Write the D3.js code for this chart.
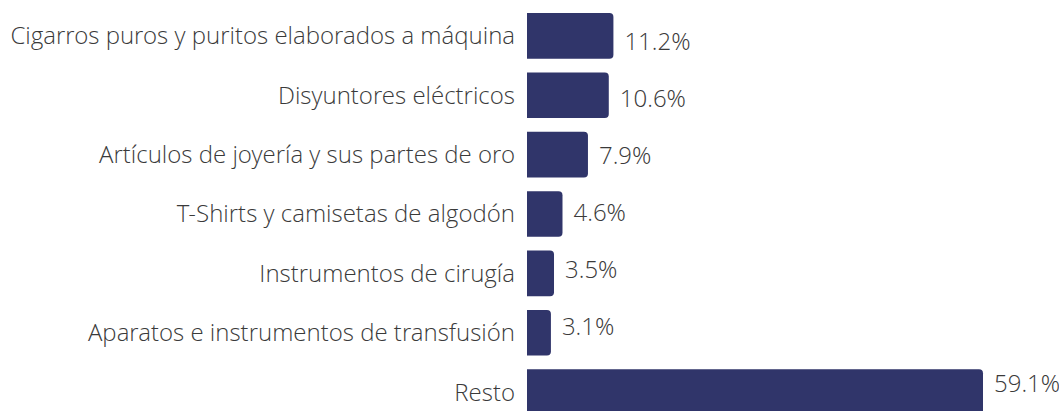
<!DOCTYPE html>
<html>
<head>
<meta charset="utf-8">
<script src="https://cdn.jsdelivr.net/npm/d3@7"></script>
<style>
  body { margin: 0; background: #fff; overflow: hidden; }
  text { font-family: "Open Sans Light", "Open Sans", sans-serif; font-weight: 300; fill: #3a3a3a; }
</style>
</head>
<body>
<div id="chart"></div>
<script>
// product categories and their share (%)
const categories = [
  "Cigarros puros y puritos elaborados a máquina",
  "Disyuntores eléctricos",
  "Artículos de joyería y sus partes de oro",
  "T-Shirts y camisetas de algodón",
  "Instrumentos de cirugía",
  "Aparatos e instrumentos de transfusión",
  "Resto"
];
const shares = [11.2, 10.6, 7.9, 4.6, 3.5, 3.1, 59.1];

const width = 1059, height = 411;
const left = 527;

const svg = d3.select("#chart")
  .append("svg")
  .attr("width", width)
  .attr("height", height);

// x scale: 59.1% spans about 456px
const x = d3.scaleLinear().domain([0, 59.1]).range([0, 456]);

// y bands for the bars (last one runs past the bottom edge)
const y = d3.scaleBand()
  .domain(categories)
  .range([13, 415])
  .paddingInner(0.23)
  .paddingOuter(0);

// value labels sit on a slightly tighter grid than the bars
const yLab = d3.scalePoint()
  .domain(categories)
  .range([41.5, 383.5]);

const data = categories.map((c, i) => ({ name: c, value: shares[i] }));

// bars with rounded right end
const r = 4;
svg.append("g")
  .selectAll("path")
  .data(data)
  .join("path")
  .attr("fill", "#30356a")
  .attr("d", (d) => {
    const x0 = left, x1 = left + x(d.value);
    const y0 = y(d.name), y1 = y0 + y.bandwidth();
    return `M${x0},${y0}H${x1 - r}Q${x1},${y0} ${x1},${y0 + r}` +
      `V${y1 - r}Q${x1},${y1} ${x1 - r},${y1}H${x0}Z`;
  });

// category labels
svg.append("g")
  .selectAll("text")
  .data(data)
  .join("text")
  .attr("x", left - 12)
  .attr("y", (d) => y(d.name) + y.bandwidth() / 2)
  .attr("dy", "0.35em")
  .attr("text-anchor", "end")
  .style("font-size", "24px")
  .text((d) => d.name);

// value labels
svg.append("g")
  .selectAll("text")
  .data(data)
  .join("text")
  .attr("x", (d) => left + x(d.value) + 11)
  .attr("y", (d) => yLab(d.name))
  .attr("dy", "0.35em")
  .style("font-size", "24px")
  .text((d) => d3.format(".1f")(d.value) + "%");
</script>
</body>
</html>
